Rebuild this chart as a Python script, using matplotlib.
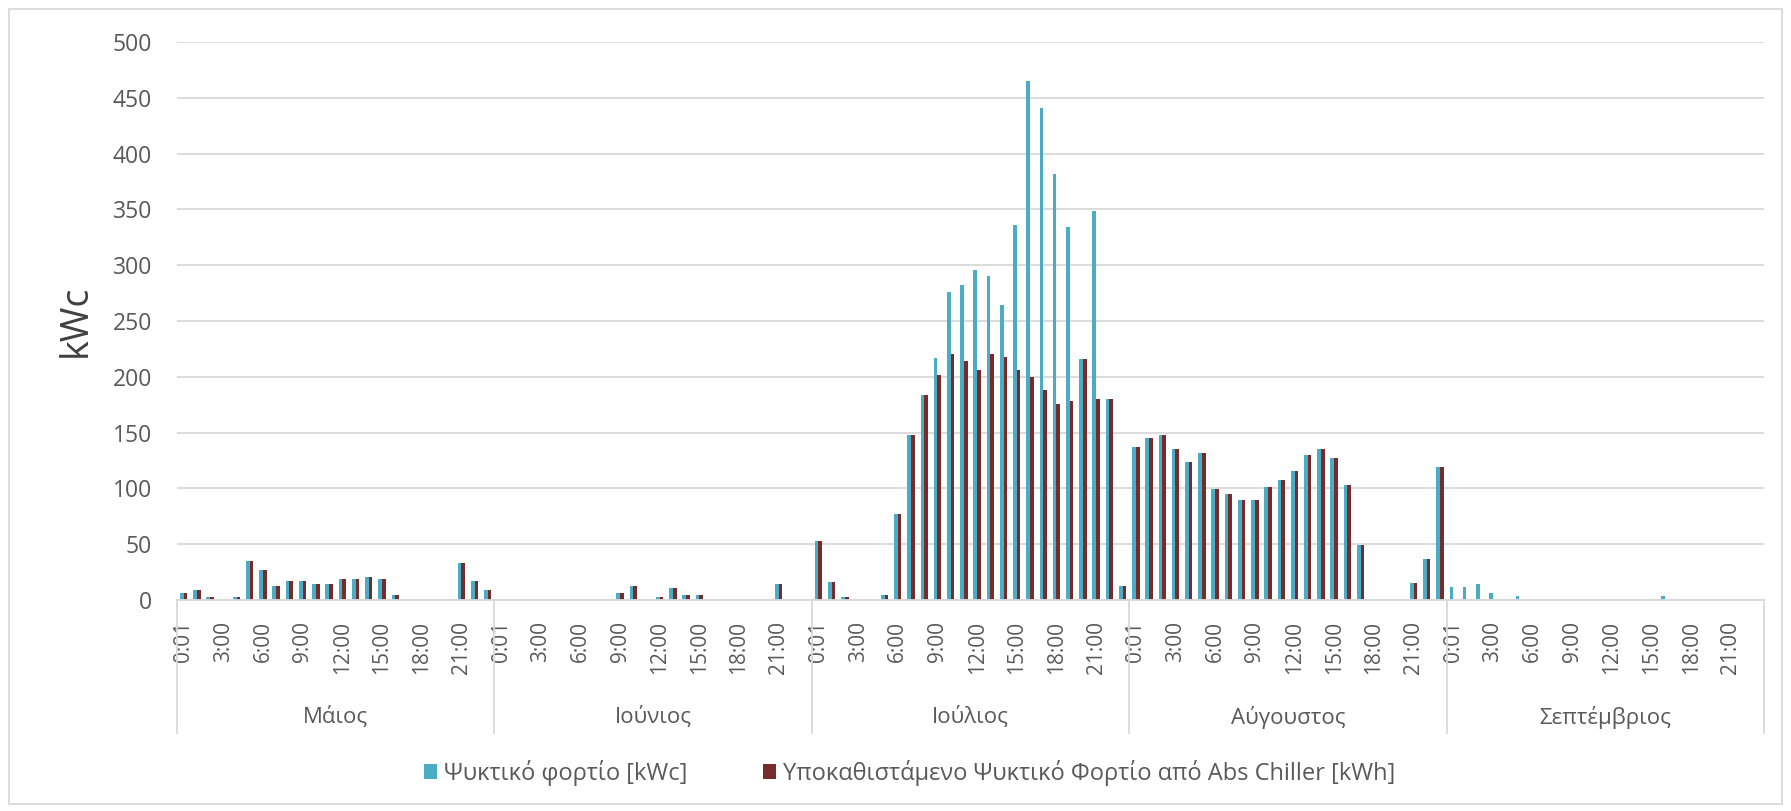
import numpy as np
import matplotlib.pyplot as plt
from matplotlib.patches import Rectangle

plt.rcParams['font.family'] = ['Open Sans', 'DejaVu Sans']

months = ['Μάιος', 'Ιούνιος', 'Ιούλιος', 'Αύγουστος', 'Σεπτέμβριος']
hour_labels = ['0:01', '3:00', '6:00', '9:00', '12:00', '15:00', '18:00', '21:00']

# cooling load per hour [kWc]
load_may = [6.5, 8.7, 2.7, 0, 2.7, 35, 27, 12.8, 16.7, 16.7, 14.6, 14.6,
            18.8, 18.8, 20.8, 18.8, 4.5, 0, 0, 0, 0, 32.8, 16.7, 8.7]
load_jun = [0, 0, 0, 0, 0, 0, 0, 0, 0, 6.5, 12.8, 0,
            2.7, 10.7, 4.5, 4.5, 0, 0, 0, 0, 0, 14.6, 0, 0]
load_jul = [53, 16.3, 2.4, 0, 0, 4.5, 77, 148, 184, 217, 276, 282,
            296, 290, 264, 336, 465, 441, 382, 334, 216, 349, 180, 12.5]
load_aug = [137.5, 145, 148, 135.5, 123.5, 131.5, 99.7, 95, 89.3, 89.3, 101, 107.8,
            115.5, 129.5, 135.5, 127.4, 103.3, 49, 0, 0, 0, 14.9, 36.6, 119]
load_sep = [12, 12, 14, 6, 0, 3.5, 0, 0, 0, 0, 0, 0,
            0, 0, 0, 0, 3.5, 0, 0, 0, 0, 0, 0, 0]

# load covered by the absorption chiller [kWh]
abs_may = load_may
abs_jun = load_jun
abs_jul = [53, 16.3, 2.4, 0, 0, 4.5, 77, 148, 184, 202, 220, 214,
           206, 220, 218, 206, 200, 188, 176, 178, 216, 180, 180, 12.5]
abs_aug = load_aug
abs_sep = [0] * 24

load = np.array(load_may + load_jun + load_jul + load_aug + load_sep)
absc = np.array(abs_may + abs_jun + abs_jul + abs_aug + abs_sep)

c_load = '#4BACC6'
c_abs = '#772C2A'
grey = '#D9D9D9'
txt = '#595959'

fig = plt.figure(figsize=(17.91, 8.11), dpi=100)
ax = fig.add_axes([177 / 1791, 1 - 600 / 811, (1764 - 177) / 1791, (600 - 42) / 811])

x = np.arange(len(load))
w = 0.28
b1 = ax.bar(x - w / 2, load, w, color=c_load, linewidth=0)
b2 = ax.bar(x + w / 2, absc, w, color=c_abs, linewidth=0)

ax.set_xlim(-0.5, len(load) - 0.5)
ax.set_ylim(0, 500)
ax.set_yticks(np.arange(0, 501, 50))
ax.yaxis.grid(True, color=grey, linewidth=1.3)
ax.set_axisbelow(True)
for s in ['top', 'right', 'left']:
    ax.spines[s].set_visible(False)
ax.spines['bottom'].set_color(grey)
ax.spines['bottom'].set_linewidth(1.3)

ticks = [m * 24 + h for m in range(len(months)) for h in range(0, 24, 3)]
ax.set_xticks(ticks)
ax.set_xticklabels(hour_labels * len(months), rotation=90, va='top')
ax.tick_params(axis='x', length=0, pad=15, labelsize=15, labelcolor=txt)
ax.tick_params(axis='y', length=0, pad=18, labelsize=16.5, labelcolor=txt)

ax.set_ylabel('kWc', fontsize=27, color='#404040')
ax.yaxis.set_label_coords(-0.052, 0.5)

# month separators and labels
trans = ax.get_xaxis_transform()
for m in range(len(months) + 1):
    ax.plot([m * 24 - 0.5] * 2, [0, -0.238], transform=trans, color=grey,
            linewidth=1.3, clip_on=False)
for m, name in enumerate(months):
    ax.text(m * 24 + 11.5, -0.21, name, transform=trans, ha='center', va='center',
            fontsize=16, color=txt)

fig.legend([b1, b2], ['Ψυκτικό φορτίο [kWc]',
                      'Υποκαθιστάμενο Ψυκτικό Φορτίο από Abs Chiller [kWh]'],
           loc='center', bbox_to_anchor=(0.508, 0.047), ncol=2, frameon=False,
           fontsize=17, labelcolor=txt, handlelength=0.55, handleheight=0.55,
           handletextpad=0.3, columnspacing=3.2)

fig.patches.append(Rectangle((9 / 1791, 7 / 811), 1773 / 1791, 795 / 811,
                             transform=fig.transFigure, fill=False,
                             edgecolor=grey, linewidth=1.3))

fig.savefig('out.png', dpi=100)
